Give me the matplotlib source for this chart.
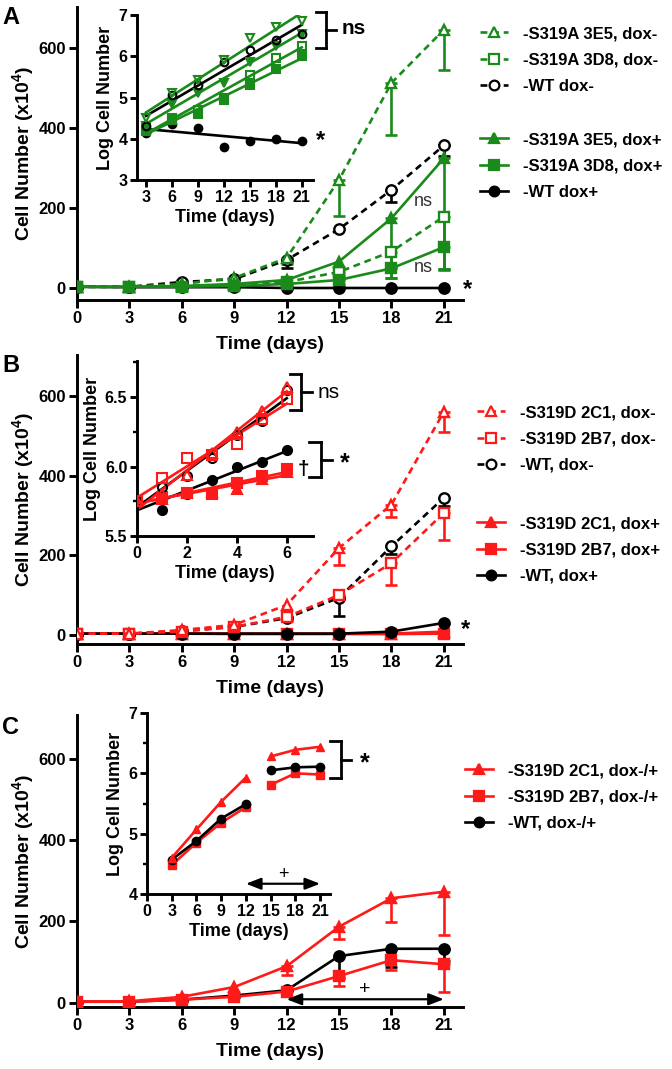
import numpy as np
import matplotlib
matplotlib.use('Agg')
import matplotlib.pyplot as plt
from matplotlib.lines import Line2D
from matplotlib import transforms

plt.rcParams['font.family'] = ['Liberation Sans', 'DejaVu Sans']
plt.rcParams['font.weight'] = 'bold'
plt.rcParams['mathtext.fontset'] = 'custom'
plt.rcParams['mathtext.rm'] = 'Liberation Sans:bold'
plt.rcParams['mathtext.bf'] = 'Liberation Sans:bold'

W, H = 672, 1069
GREEN = '#1a8a1a'
RED = '#ff1a1a'
BLACK = '#000000'
LW = 1.9

days = np.array([0, 3, 6, 9, 12, 15, 18, 21])

# ---- panel A, main (cell number x10^4) ----
a_3e5_neg = [3, 3, 10, 25, 75, 270, 512, 645]
a_3e5_neg_err = [0, 0, 0, 0, 15, 90, 130, 100]
a_3d8_neg = [3, 3, 5, 8, 15, 40, 91, 178]
a_3d8_neg_err = [0, 0, 0, 0, 0, 10, 40, 130]
a_wt_neg = [3, 3, 15, 22, 70, 147, 245, 356]
a_wt_neg_err = [0, 0, 0, 0, 20, 0, 30, 25]
a_3e5_pos = [3, 3, 5, 10, 20, 66, 174, 324]
a_3e5_pos_err = [0, 0, 0, 0, 0, 0, 150, 280]
a_3d8_pos = [3, 3, 3, 5, 10, 20, 49, 102]
a_3d8_pos_err = [0, 0, 0, 0, 0, 10, 25, 55]
a_wt_pos = [3, 2, 2, 2, 0, 0, 0, 0]

# ---- panel A, inset (log cell number) ----
ia_days = np.array([3, 6, 9, 12, 15, 18, 21])
ia_3e5_neg = [4.5, 5.1, 5.42, 5.9, 6.45, 6.7, 6.85]
ia_3d8_neg = [4.25, 4.5, 4.7, 5.0, 5.55, 5.95, 6.25]
ia_wt_neg = [4.3, 5.05, 5.3, 5.85, 6.15, 6.4, 6.55]
ia_3e5_pos = [4.3, 4.85, 5.1, 5.35, 5.85, 6.25, 6.55]
ia_3d8_pos = [4.2, 4.45, 4.6, 4.95, 5.3, 5.7, 6.0]
ia_wt_pos = [4.15, 4.35, 4.25, 3.8, 3.95, 4.0, 3.95]

# ---- panel B, main ----
b_2c1_neg = [3, 3, 12, 25, 75, 218, 327, 560]
b_2c1_neg_err = [0, 0, 0, 0, 0, 42, 30, 50]
b_2b7_neg = [3, 3, 8, 20, 45, 100, 180, 306]
b_2b7_neg_err = [0, 0, 0, 0, 10, 10, 54, 68]
b_wt_neg = [3, 3, 10, 20, 42, 93, 222, 344]
b_wt_neg_err = [0, 0, 0, 0, 0, 45, 20, 20]
b_2c1_pos = [3, 3, 3, 3, 3, 3, 3, 8]
b_2b7_pos = [3, 3, 3, 2, 2, 2, 2, 3]
b_wt_pos = [3, 3, 3, 3, 3, 3, 8, 30]

# ---- panel B, inset ----
ib_days = np.array([0, 1, 2, 3, 4, 5, 6])
ib_2c1_neg = [5.75, 5.80, 5.94, 6.10, 6.25, 6.40, 6.57]
ib_2b7_neg = [5.75, 5.92, 6.06, 6.08, 6.16, 6.34, 6.49]
ib_wt_neg = [5.75, 5.85, 5.93, 6.06, 6.23, 6.33, 6.55]
ib_2c1_pos = [5.75, 5.77, 5.81, 5.82, 5.84, 5.91, 5.96]
ib_2b7_pos = [5.75, 5.78, 5.81, 5.80, 5.88, 5.93, 5.98]
ib_wt_pos = [5.75, 5.69, 5.80, 5.90, 6.00, 6.03, 6.12]

# ---- panel C, main ----
c_2c1 = [3, 4, 15, 39, 90, 187, 257, 273]
c_2c1_err = [0, 0, 0, 0, 22, 29, 58, 107]
c_2b7 = [3, 3, 8, 15, 28, 66, 105, 95]
c_2b7_err = [0, 0, 0, 0, 0, 25, 23, 69]
c_wt = [3, 3, 8, 18, 31, 115, 133, 133]
c_wt_err = [0, 0, 0, 0, 0, 54, 44, 30]

# ---- panel C, inset ----
ic_days = np.array([3, 6, 9, 12, 15, 18, 21])
ic_2c1 = [4.6, 5.07, 5.53, 5.93, 6.28, 6.39, 6.44]
ic_2b7 = [4.48, 4.85, 5.18, 5.44, 5.81, 6.0, 5.98]
ic_wt = [4.57, 4.88, 5.25, 5.49, 6.05, 6.1, 6.11]

fig = plt.figure(figsize=(W / 100, H / 100), dpi=100)
pix = transforms.Affine2D().scale(1.0 / W, -1.0 / H).translate(0, 1) + fig.transFigure


def px_axes(x0, y0, x1, y1):
    return fig.add_axes([x0 / W, 1 - y1 / H, (x1 - x0) / W, (y1 - y0) / H])


def style(ax, size, ticklen):
    for s in ['top', 'right']:
        ax.spines[s].set_visible(False)
    for s in ['left', 'bottom']:
        ax.spines[s].set_linewidth(2.1)
    ax.tick_params(which='major', length=ticklen, width=2.1, labelsize=size, pad=2)
    ax.tick_params(which='minor', length=ticklen * 0.6, width=1.7)
    for lab in ax.get_xticklabels() + ax.get_yticklabels():
        lab.set_fontweight('bold')


def main_axes(y0, y1, ylim):
    ax = px_axes(77, y0, 463, y1)
    ax.set_xlim(0, 22.1)
    ax.set_ylim(*ylim)
    ax.set_xticks(np.arange(0, 22, 3))
    ax.set_yticks([0, 200, 400, 600])
    style(ax, 12, 6)
    ax.set_xlabel('Time (days)', fontsize=14, fontweight='bold', labelpad=7)
    ax.set_ylabel('Cell Number (x10$^4$)', fontsize=14, fontweight='bold', labelpad=1)
    return ax


def series(ax, y, err, color, marker, filled, dashed, ms=7.5):
    y = np.array(y, dtype=float)
    ls = (0, (2.6, 1.8)) if dashed else '-'
    if err is not None:
        err = np.array(err, dtype=float)
        k = err > 0
        ax.errorbar(days[k], y[k], yerr=[err[k], np.zeros(k.sum())], fmt='none',
                    ecolor=color, elinewidth=LW, capsize=4.5, capthick=LW, zorder=2)
    ax.plot(days, y, linestyle=ls, color=color, lw=LW, marker=marker, ms=ms,
            mfc=color if filled else 'white', mec=color, mew=1.7, zorder=3)


def fit_series(ax, x, y, color, marker, filled, ms=5.5):
    p = np.polyfit(x, y, 1)
    xx = np.array([x[0], x[-1]])
    ax.plot(xx, np.polyval(p, xx), color=color, lw=LW, zorder=2)
    ax.plot(x, y, linestyle='none', marker=marker, ms=ms,
            mfc=color if filled else 'none', mec=color, mew=1.5, zorder=3)


def bracket(x0, xv, xt, y0, y1):
    ym = (y0 + y1) / 2
    for xs, ys in [([x0, xv], [y0, y0]), ([xv, xv], [y0, y1]), ([x0, xv], [y1, y1]),
                   ([xv, xt], [ym, ym])]:
        fig.add_artist(Line2D(xs, ys, transform=pix, color='black', lw=2.0))


def ptext(x, y, s, size, weight='bold', color='black', ha='left'):
    fig.text(x, y, s, transform=pix, fontsize=size, fontweight=weight,
             color=color, ha=ha, va='center')


def legend(handles, labels, x, y):
    lg = fig.legend(handles, labels, loc='center left', bbox_to_anchor=(x / W, 1 - y / H),
                    bbox_transform=fig.transFigure, frameon=False, borderpad=0,
                    borderaxespad=0, handlelength=1.7, handletextpad=0.9,
                    labelspacing=0.68, prop=dict(size=12, weight='bold'))
    return lg


def h(color, marker, filled, dashed):
    return Line2D([], [], color=color, lw=LW, linestyle=(0, (2.6, 1.8)) if dashed else '-',
                  marker=marker, ms=7, mfc=color if filled else 'white', mec=color, mew=1.6)


# ================= A =================
ax = main_axes(7, 300, (-30, 702))
series(ax, a_wt_pos, None, BLACK, 'o', True, False)
series(ax, a_3d8_neg, a_3d8_neg_err, GREEN, 's', False, True)
series(ax, a_wt_neg, a_wt_neg_err, BLACK, 'o', False, True)
series(ax, a_3e5_neg, a_3e5_neg_err, GREEN, '^', False, True)
series(ax, a_3d8_pos, a_3d8_pos_err, GREEN, 's', True, False)
series(ax, a_3e5_pos, a_3e5_pos_err, GREEN, '^', True, False)

ia = px_axes(137, 15, 313, 180)
ia.set_xlim(1.96, 22.3)
ia.set_ylim(3, 7)
ia.set_xticks(ia_days)
ia.set_yticks([3, 4, 5, 6, 7])
style(ia, 11.5, 5)
ia.set_xlabel('Time (days)', fontsize=13, fontweight='bold', labelpad=3)
ia.set_ylabel('Log Cell Number', fontsize=13, fontweight='bold', labelpad=3)
fit_series(ia, ia_days, ia_wt_pos, BLACK, 'o', True)
fit_series(ia, ia_days, ia_3d8_pos, GREEN, 's', True)
fit_series(ia, ia_days, ia_3d8_neg, GREEN, 's', False)
fit_series(ia, ia_days, ia_3e5_pos, GREEN, 'v', True)
fit_series(ia, ia_days, ia_wt_neg, BLACK, 'o', False)
fit_series(ia, ia_days, ia_3e5_neg, GREEN, 'v', False)

bracket(316, 326, 336, 12, 48)
ptext(342, 29, 'ns', 15)
ptext(316, 141, '*', 17)
ptext(414, 202, 'ns', 13, weight='normal', color='#333333')
ptext(414, 267, 'ns', 13, weight='normal', color='#333333')
ptext(463, 290, '*', 17)
ptext(2, 17, 'A', 17)

legend([h(GREEN, '^', False, True), h(GREEN, 's', False, True), h(BLACK, 'o', False, True)],
       ['-S319A 3E5, dox-', '-S319A 3D8, dox-', '-WT dox-'], 480, 60)
legend([h(GREEN, '^', True, False), h(GREEN, 's', True, False), h(BLACK, 'o', True, False)],
       ['-S319A 3E5, dox+', '-S319A 3D8, dox+', '-WT dox+'], 480, 166)

# ================= B =================
ax = main_axes(355, 644, (-23, 703))
series(ax, b_2c1_pos, None, RED, '^', True, False)
series(ax, b_2b7_pos, None, RED, 's', True, False)
series(ax, b_wt_pos, None, BLACK, 'o', True, False)
series(ax, b_wt_neg, b_wt_neg_err, BLACK, 'o', False, True)
series(ax, b_2b7_neg, b_2b7_neg_err, RED, 's', False, True)
series(ax, b_2c1_neg, b_2c1_neg_err, RED, '^', False, True)

ib = px_axes(137, 361, 313, 536)
ib.set_xlim(0, 7.05)
ib.set_ylim(5.5, 6.76)
ib.set_xticks([0, 2, 4, 6])
ib.set_yticks([5.5, 6.0, 6.5])
ib.set_yticks([5.75, 6.25, 6.75], minor=True)
ib.set_yticklabels(['5.5', '6.0', '6.5'])
style(ib, 11.5, 5)
ib.set_xlabel('Time (days)', fontsize=13, fontweight='bold', labelpad=3)
ib.set_ylabel('Log Cell Number', fontsize=13, fontweight='bold', labelpad=3)
fit_series(ib, ib_days, ib_wt_pos, BLACK, 'o', True, ms=6.5)
fit_series(ib, ib_days, ib_2c1_pos, RED, '^', True, ms=6.5)
fit_series(ib, ib_days, ib_2b7_pos, RED, 's', True, ms=6.5)
fit_series(ib, ib_days, ib_wt_neg, BLACK, 'o', False, ms=6.5)
fit_series(ib, ib_days, ib_2b7_neg, RED, 's', False, ms=6.5)
fit_series(ib, ib_days, ib_2c1_neg, RED, '^', False, ms=6.5)

bracket(290, 301, 312, 374, 410)
ptext(318, 392, 'ns', 15, weight='normal')
bracket(309, 321, 332, 442, 477)
ptext(340, 463, '*', 18)
ptext(298, 470, '†', 15)
ptext(461, 630, '*', 17)
ptext(2, 365, 'B', 17)

legend([h(RED, '^', False, True), h(RED, 's', False, True), h(BLACK, 'o', False, True)],
       ['-S319D 2C1, dox-', '-S319D 2B7, dox-', '-WT, dox-'], 477, 439)
legend([h(RED, '^', True, False), h(RED, 's', True, False), h(BLACK, 'o', True, False)],
       ['-S319D 2C1, dox+', '-S319D 2B7, dox+', '-WT, dox+'], 477, 550)

# ================= C =================
ax = main_axes(715, 1007, (-10, 707))
series(ax, c_wt, c_wt_err, BLACK, 'o', True, False)
series(ax, c_2b7, c_2b7_err, RED, 's', True, False)
series(ax, c_2c1, c_2c1_err, RED, '^', True, False)
ax.annotate('', xy=(21, 9), xytext=(12, 9),
            arrowprops=dict(arrowstyle='<|-|>,head_length=0.9,head_width=0.35',
                            color='black', lw=1.6, shrinkA=0, shrinkB=0))
ax.text(16.5, 32, '+', fontsize=14, ha='center', va='center', fontweight='normal')

ic = px_axes(147, 713, 330, 894)
ic.set_xlim(0, 22.2)
ic.set_ylim(4, 7)
ic.set_xticks(np.arange(0, 22, 3))
ic.set_yticks([4, 5, 6, 7])
ic.set_yticks([4.5, 5.5, 6.5], minor=True)
style(ic, 11.5, 5)
ic.set_xlabel('Time (days)', fontsize=13, fontweight='bold', labelpad=3)
ic.set_ylabel('Log Cell Number', fontsize=13, fontweight='bold', labelpad=3)
for yy, col, mk in [(ic_2b7, RED, 's'), (ic_wt, BLACK, 'o'), (ic_2c1, RED, '^')]:
    yy = np.array(yy)
    for sl in [slice(0, 4), slice(4, 7)]:
        ic.plot(ic_days[sl], yy[sl], color=col, lw=LW, marker=mk, ms=6, mfc=col, mec=col)
ic.annotate('', xy=(21, 4.17), xytext=(12, 4.17),
            arrowprops=dict(arrowstyle='<|-|>,head_length=0.9,head_width=0.35',
                            color='black', lw=1.6, shrinkA=0, shrinkB=0))
ic.text(16.5, 4.33, '+', fontsize=13, ha='center', va='center', fontweight='normal')

bracket(330, 341, 351, 741, 778)
ptext(360, 763, '*', 18)
ptext(2, 727, 'C', 17)

legend([h(RED, '^', True, False), h(RED, 's', True, False), h(BLACK, 'o', True, False)],
       ['-S319D 2C1, dox-/+', '-S319D 2B7, dox-/+', '-WT, dox-/+'], 465, 797)

fig.savefig('out.png', dpi=100)
